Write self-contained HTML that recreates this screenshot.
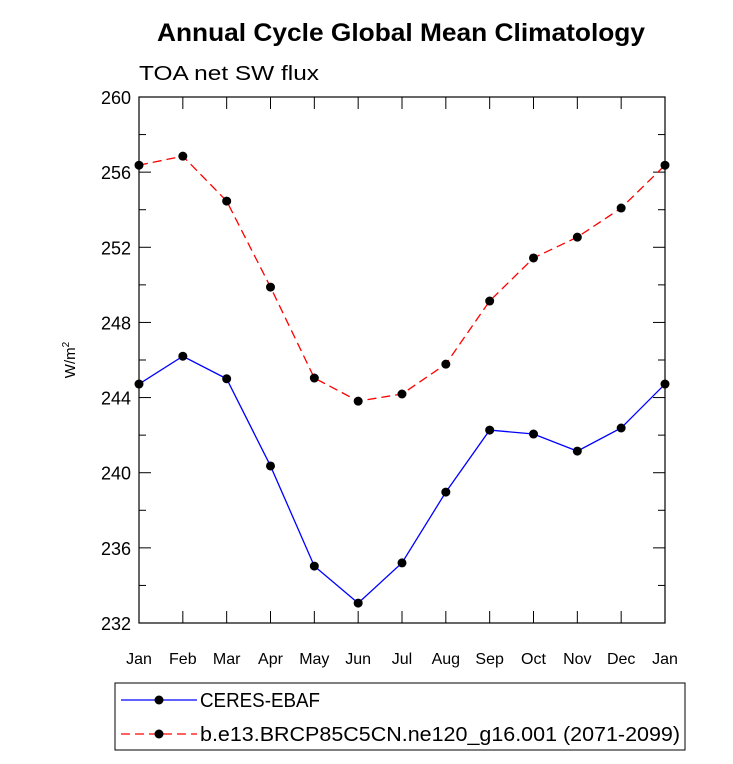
<!DOCTYPE html>
<html><head><meta charset="utf-8"><style>
body{margin:0;background:#fff;font-family:"Liberation Sans",sans-serif}
</style></head><body>
<svg id="chart" width="733" height="759" xmlns="http://www.w3.org/2000/svg" font-family="Liberation Sans, sans-serif">
<text x="157" y="41" font-size="25" font-weight="bold" textLength="488" lengthAdjust="spacingAndGlyphs">Annual Cycle Global Mean Climatology</text>
<text x="139" y="80" font-size="20" textLength="180" lengthAdjust="spacingAndGlyphs">TOA net SW flux</text>
<text transform="translate(75,360) rotate(-90)" font-size="15" text-anchor="middle">W/m<tspan font-size="10" dy="-6">2</tspan></text>
<rect x="139" y="97" width="526" height="526" fill="none" stroke="#000" stroke-width="1.2"/>
<g id="axes"></g>
<g id="series"></g>
<g>
<rect x="115" y="683" width="570" height="67" fill="none" stroke="#000" stroke-width="1"/>
<line x1="121" y1="700" x2="197" y2="700" stroke="#00f" stroke-width="1.2"/>
<circle cx="159" cy="700" r="4.5" fill="#000"/>
<text x="200" y="707" font-size="20" textLength="120" lengthAdjust="spacingAndGlyphs">CERES-EBAF</text>
<line x1="121" y1="734" x2="197" y2="734" stroke="#f00" stroke-width="1.2" stroke-dasharray="9,5"/>
<circle cx="159" cy="734" r="4.5" fill="#000"/>
<text x="200" y="741" font-size="20" textLength="480" lengthAdjust="spacingAndGlyphs">b.e13.BRCP85C5CN.ne120_g16.001 (2071-2099)</text>
</g>
</svg>
<script>
const months=["Jan","Feb","Mar","Apr","May","Jun","Jul","Aug","Sep","Oct","Nov","Dec","Jan"];
const ceres=[244.72,246.2,245.0,240.36,235.03,233.06,235.2,238.97,242.27,242.06,241.15,242.38,244.72];
const model=[256.37,256.85,254.46,249.88,245.04,243.81,244.19,245.78,249.14,251.43,252.54,254.09,256.37];
const yTicks=[232,236,240,244,248,252,256,260];
const NS="http://www.w3.org/2000/svg";
const x0=139,x1=665,y0=623,y1=97,ymin=232,ymax=260;
const X=i=>x0+(x1-x0)*i/(months.length-1);
const Y=v=>y0-(v-ymin)/(ymax-ymin)*(y0-y1);
function mk(t,a,p){const e=document.createElementNS(NS,t);for(const k in a)e.setAttribute(k,a[k]);p.appendChild(e);return e;}
const ax=document.getElementById('axes'),sr=document.getElementById('series');
for(let v=ymin;v<=ymax;v+=2){const y=Y(v),L=(v%4===0)?12:7;
 mk('line',{x1:x0,y1:y,x2:x0+L,y2:y,stroke:'#000'},ax);mk('line',{x1:x1,y1:y,x2:x1-L,y2:y,stroke:'#000'},ax);}
yTicks.forEach(v=>{const t=mk('text',{x:x0-8,y:Y(v)+7,'font-size':18,'text-anchor':'end'},ax);

t.textContent=v;});
months.forEach((m,i)=>{const x=X(i);
 mk('line',{x1:x,y1:y0,x2:x,y2:y0-12,stroke:'#000'},ax);mk('line',{x1:x,y1:y1,x2:x,y2:y1+12,stroke:'#000'},ax);
 const t=mk('text',{x:x,y:y0+41,'font-size':16,'text-anchor':'middle'},ax);
 
 t.textContent=m;});
function draw(vals,color,dash,name){
 const p=mk('polyline',{points:vals.map((v,i)=>X(i)+','+Y(v)).join(' '),fill:'none',stroke:color,'stroke-width':1.3,'stroke-dasharray':dash},sr);
 
 
 vals.forEach((v,i)=>{const c=mk('circle',{cx:X(i),cy:Y(v),r:4.5,fill:'#000'},sr);
  
  });
}
draw(ceres,'#00f','none','ceres');
draw(model,'#f00','9,5','model');
</script>
</body></html>
